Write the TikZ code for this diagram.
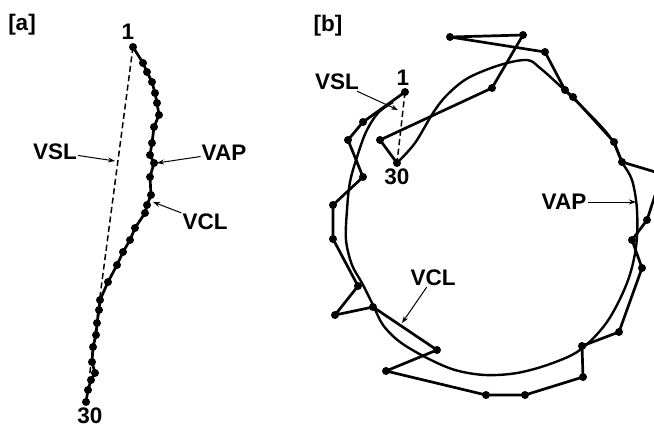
\documentclass[tikz,border=0pt]{standalone}
\usepackage{fontspec}
\setmainfont{Liberation Sans}
\usetikzlibrary{arrows.meta}

\tikzset{
  traj/.style={line width=2.7pt, line join=round},
  vcl/.style={line width=2.4pt, line join=round},
  vsl/.style={dash pattern=on 6pt off 3.5pt, line width=1.5pt},
  lbl/.style={font=\fontsize{22.5}{25}\selectfont\bfseries, inner sep=1pt},
  pointer/.style={-{Stealth[length=7pt,width=5pt]}, line width=1pt},
}

\begin{document}
\begin{tikzpicture}[x=1pt,y=-1pt]
  \useasboundingbox (0,0) rectangle (654,428);
  \clip (0,0) rectangle (654,428);

  % (a) nearly straight track
  \foreach \px/\py [count=\i] in {133/47, 143/63, 147/72, 152/82, 155/93, 157/103,
      159/115, 154/127, 152/143, 150/155, 154/163, 150/177, 151/195, 147/205,
      145/213, 135/228, 130/240, 123/252, 117/265, 108/282, 100/300, 99/310,
      97/323, 96/335, 93/347, 92/362, 95/373, 91/380, 88/390, 86/402}
    \coordinate (a\i) at (\px,\py);
  \draw[traj] (a1) \foreach \i in {2,...,30} {-- (a\i)};
  \foreach \i in {1,...,30} \fill (a\i) circle (4pt);
  \draw[vsl] (a1) -- (a30);

  \node[lbl] (panelA) at (22,25) {[a]};
  \node[lbl] (a1lab) at (128,32) {1};
  \node[lbl] (a30lab) at (90,416) {30};

  \node[lbl] (vslA) at (55,152) {VSL};
  \coordinate (vslAtip) at (115,161);
  \draw[pointer] (vslA) -- (vslAtip);
  \node[lbl] (vapA) at (224,153) {VAP};
  \coordinate (vapAtip) at (157,163);
  \draw[pointer] (vapA) -- (vapAtip);
  \node[lbl] (vclA) at (205,222) {VCL};
  \coordinate (vclAtip) at (153,202);
  \draw[pointer] (vclA) -- (vclAtip);

  % (b) circling track
  \foreach \px/\py [count=\i] in {405/92, 363/122, 348/140, 363/177, 333/205,
      333/239, 358/286, 335/315, 373/307, 437/350, 386/371, 486/395, 525/395,
      583/377, 582/346, 619/332, 642/268, 632/240, 647/220, 662/174, 622/162,
      614/142, 573/97, 565/90, 545/52, 450/37, 523/35, 492/88, 380/140, 397/163}
    \coordinate (b\i) at (\px,\py);
  \draw[traj] (b1) \foreach \i in {2,...,30} {-- (b\i)};
  \foreach \i in {1,...,30} \fill (b\i) circle (4pt);
  \draw[vsl] (b1) -- (b30);

  % smoothed path
  \draw[vcl] plot[smooth, tension=0.55] coordinates {(393,102) (378,113) (366,132)
      (357,157) (350,182) (347,210) (346,240) (352,265) (362,283) (373,305)
      (383,325) (400,342) (427,358) (455,370) (485,375) (517,373) (550,364)
      (580,350) (607,322) (627,283) (636,247) (637,210) (632,180) (622,162)
      (612,140) (598,123) (578,103) (558,84) (540,68) (527,60) (500,65)
      (468,78) (447,95) (433,113) (415,143) (397,163)};

  \node[lbl] (panelB) at (328,26) {[b]};
  \node[lbl] (b1lab) at (403,78) {1};
  \node[lbl] (b30lab) at (397,177) {30};

  \node[lbl] (vslB) at (337,82) {VSL};
  \coordinate (vslBtip) at (398,110);
  \draw[pointer] (vslB) -- (vslBtip);
  \node[lbl] (vapB) at (564,202) {VAP};
  \coordinate (vapBtip) at (636,202);
  \draw[pointer] (vapB) -- (vapBtip);
  \node[lbl] (vclB) at (433,278) {VCL};
  \coordinate (vclBtip) at (402,323);
  \draw[pointer] (vclB) -- (vclBtip);
\end{tikzpicture}
\end{document}
